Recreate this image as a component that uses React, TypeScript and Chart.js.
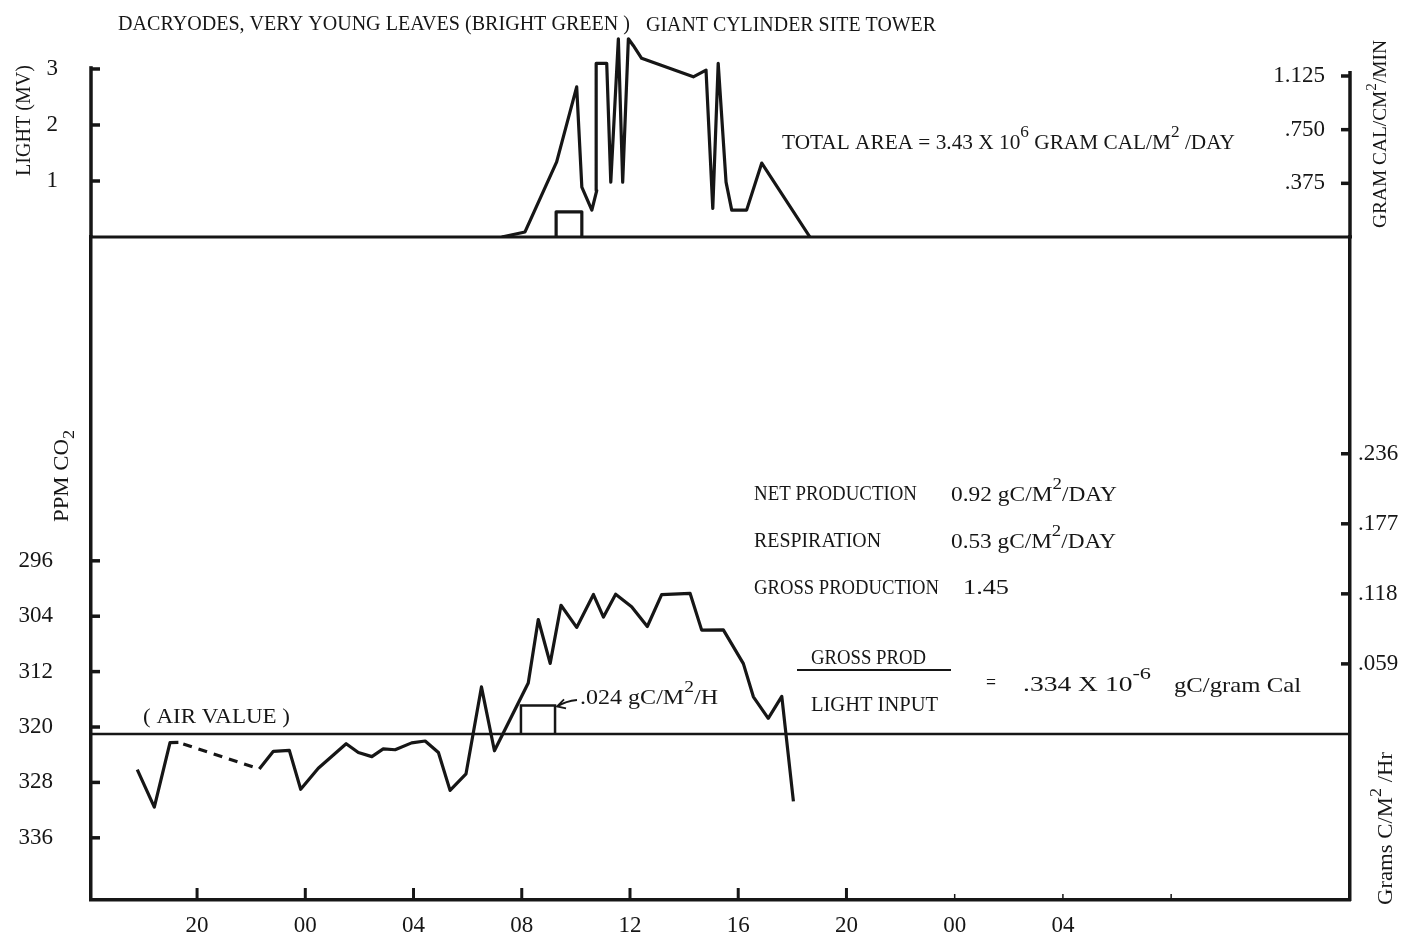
import { useEffect, useRef } from 'react';
import { Chart, registerables } from 'chart.js';

Chart.register(...registerables);

// Clock hours on one continuous axis: -4 is 20:00 of the evening before, 24 is the next midnight.
const HOUR_TICKS = [-4, 0, 4, 8, 12, 16, 20, 24, 28, 32];
const HOUR_LABELS = ['20', '00', '04', '08', '12', '16', '20', '00', '04', ''];

const LIGHT_TICKS = [1, 2, 3];
const CAL_TICKS = [0.375, 0.75, 1.125];
const CAL_LABELS = ['.375', '.750', '1.125'];
const CO2_TICKS = [296, 304, 312, 320, 328, 336];
const RATE_TICKS = [0.059, 0.118, 0.177, 0.236];
const RATE_LABELS = ['.059', '.118', '.177', '.236'];

// Light sensor trace (millivolts)
const LIGHT_HOURS = [7.26, 8.12, 9.29, 10.03, 10.22, 10.59, 10.77, 10.75, 11.14, 11.29, 11.57, 11.73, 11.94, 12.12, 12.43, 14.34, 14.81, 15.06, 15.26, 15.55, 15.76, 16.31, 16.87, 18.65];
const LIGHT_MV = [0, 0.09, 1.34, 2.68, 0.89, 0.48, 0.83, 3.1, 3.1, 0.98, 3.54, 0.98, 3.54, 3.42, 3.19, 2.86, 2.98, 0.51, 3.1, 0.98, 0.48, 0.48, 1.32, 0];

// Reference block under the light curve
const LIGHT_BOX_HOURS = [9.27, 9.27, 10.22, 10.22];
const LIGHT_BOX_MV = [0, 0.45, 0.45, 0];

// CO2 in the cylinder (ppm); null marks the stretch that is only sketched in dashes
const CO2_HOURS = [-6.21, -5.58, -5.0, -4.69, -3.2, -1.7, -1.18, -0.59, -0.17, 0.48, 1.51, 1.96, 2.46, 2.88, 3.32, 3.93, 4.43, 4.92, 5.35, 5.94, 6.51, 6.99, 8.24, 8.61, 9.05, 9.45, 10.03, 10.65, 11.02, 11.47, 12.06, 12.64, 13.17, 14.22, 14.65, 15.45, 16.19, 16.56, 17.11, 17.61, 18.04];
const CO2_PPM = [326.15, 331.56, 322.25, 322.23, null, 326.07, 323.51, 323.38, 328.99, 325.96, 322.41, 323.68, 324.28, 323.16, 323.28, 322.29, 322.02, 323.68, 329.15, 326.76, 314.21, 323.43, 313.65, 304.48, 310.81, 302.42, 305.62, 300.87, 304.13, 300.83, 302.63, 305.49, 300.89, 300.69, 306.01, 305.97, 310.85, 315.64, 318.74, 315.58, 330.73];
const CO2_GAP_HOURS = [-4.51, -1.79];
const CO2_GAP_PPM = [322.46, 325.93];

const AIR_PPM = 321;

// Net uptake block, one hour at .024 gC/m2/h
const NET_BOX_HOURS = [7.97, 7.97, 9.23, 9.23];
const NET_BOX_RATE = [0, 0.024, 0.024, 0];

// Scale ranges
const X_MIN = -7.92;
const X_MAX = 38.61;
const LIGHT_MAX = 3.571;
const CAL_MAX = 1.3975;
const CO2_MIN = 249.24;
const CO2_MAX = 344.98;
const RATE_MIN = -0.1399;
const RATE_MAX = 0.4186;

const INK = '#161616';
const TEXT_FONT = '"Liberation Serif", "DejaVu Serif", serif';

type Seg = { t: string; v?: number };
type Note = { segs: Seg[]; x: number; y: number; w: number; size: number; rot?: boolean };

const NOTES: Note[] = [
  { segs: [{ t: 'DACRYODES, VERY YOUNG LEAVES (BRIGHT GREEN )' }], x: 118, y: 30, w: 512, size: 21 },
  { segs: [{ t: 'GIANT CYLINDER SITE TOWER' }], x: 646, y: 31, w: 290, size: 21 },
  { segs: [{ t: 'TOTAL AREA = 3.43 X 10' }, { t: '6', v: 1 }, { t: ' GRAM CAL/M' }, { t: '2', v: 1 }, { t: ' /DAY' }], x: 782, y: 149, w: 453, size: 21 },
  { segs: [{ t: 'NET PRODUCTION' }], x: 754, y: 500, w: 163, size: 21 },
  { segs: [{ t: '0.92 gC/M' }, { t: '2', v: 1 }, { t: '/DAY' }], x: 951, y: 501, w: 166, size: 21 },
  { segs: [{ t: 'RESPIRATION' }], x: 754, y: 547, w: 127, size: 21 },
  { segs: [{ t: '0.53 gC/M' }, { t: '2', v: 1 }, { t: '/DAY' }], x: 951, y: 548, w: 165, size: 21 },
  { segs: [{ t: 'GROSS PRODUCTION' }], x: 754, y: 594, w: 185, size: 21 },
  { segs: [{ t: '1.45' }], x: 963, y: 594, w: 46, size: 21 },
  { segs: [{ t: 'GROSS PROD' }], x: 811, y: 664, w: 115, size: 21 },
  { segs: [{ t: 'LIGHT INPUT' }], x: 811, y: 711, w: 127, size: 21 },
  { segs: [{ t: '=' }], x: 986, y: 689, w: 10, size: 21 },
  { segs: [{ t: '.334 X 10' }, { t: '-6', v: 1 }], x: 1023, y: 691, w: 128, size: 21 },
  { segs: [{ t: 'gC/gram Cal' }], x: 1174, y: 692, w: 127, size: 21 },
  { segs: [{ t: '( AIR VALUE )' }], x: 143, y: 723, w: 147, size: 21 },
  { segs: [{ t: '.024 gC/M' }, { t: '2', v: 1 }, { t: '/H' }], x: 580, y: 704, w: 138, size: 21 },
  { segs: [{ t: 'LIGHT (MV)' }], x: 30, y: 176, w: 111, size: 20, rot: true },
  { segs: [{ t: 'PPM CO' }, { t: '2', v: -1 }], x: 68, y: 522, w: 92, size: 20, rot: true },
  { segs: [{ t: 'GRAM CAL/CM' }, { t: '2', v: 1 }, { t: '/MIN' }], x: 1386, y: 228, w: 188, size: 19, rot: true },
  { segs: [{ t: 'Grams C/M' }, { t: '2', v: 1 }, { t: ' /Hr' }], x: 1392, y: 905, w: 153, size: 20, rot: true },
];

function drawNote(ctx: CanvasRenderingContext2D, n: Note) {
  ctx.save();
  ctx.translate(n.x, n.y);
  if (n.rot) ctx.rotate(-Math.PI / 2);
  ctx.fillStyle = INK;
  ctx.textAlign = 'left';
  ctx.textBaseline = 'alphabetic';
  const fonts = n.segs.map((s) => `${s.v ? Math.round(n.size * 0.8) : n.size}px ${TEXT_FONT}`);
  const widths = n.segs.map((s, i) => {
    ctx.font = fonts[i];
    return ctx.measureText(s.t).width;
  });
  const total = widths.reduce((a, b) => a + b, 0);
  ctx.scale(n.w / total, 1);
  let cx = 0;
  n.segs.forEach((s, i) => {
    ctx.font = fonts[i];
    const dy = s.v === 1 ? -n.size * 0.55 : s.v === -1 ? n.size * 0.3 : 0;
    ctx.fillText(s.t, cx, dy);
    cx += widths[i];
  });
  ctx.restore();
}

function seg(ctx: CanvasRenderingContext2D, x1: number, y1: number, x2: number, y2: number, w: number) {
  ctx.lineWidth = w;
  ctx.beginPath();
  ctx.moveTo(x1, y1);
  ctx.lineTo(x2, y2);
  ctx.stroke();
}

const NET_RATE_TOP = NET_BOX_RATE[1];

const framePlugin = {
  id: 'frame',
  beforeDatasetsDraw(chart: any) {
    const ctx: CanvasRenderingContext2D = chart.ctx;
    const { left, right, bottom } = chart.chartArea;
    const { x, yL, yC, yR1, yR2 } = chart.scales;
    ctx.save();
    ctx.strokeStyle = INK;
    ctx.lineCap = 'butt';
    // upper parts of the two vertical axes
    seg(ctx, left, yL.getPixelForValue(3.05), left, yL.getPixelForValue(0), 3.5);
    seg(ctx, right, yR1.getPixelForValue(1.16), right, yR1.getPixelForValue(0), 3.5);
    // light base line and air value line
    const y0 = yL.getPixelForValue(0);
    seg(ctx, left - 2, y0, right + 2, y0, 3);
    const yAir = yC.getPixelForValue(AIR_PPM);
    seg(ctx, left, yAir, right, yAir, 2.5);
    // inward tick marks
    LIGHT_TICKS.forEach((v) => seg(ctx, left, yL.getPixelForValue(v), left + 9, yL.getPixelForValue(v), 3.5));
    CO2_TICKS.forEach((v) => seg(ctx, left, yC.getPixelForValue(v), left + 9, yC.getPixelForValue(v), 3.5));
    CAL_TICKS.forEach((v) => seg(ctx, right - 9, yR1.getPixelForValue(v), right, yR1.getPixelForValue(v), 3.5));
    RATE_TICKS.forEach((v) => seg(ctx, right - 9, yR2.getPixelForValue(v), right, yR2.getPixelForValue(v), 3.5));
    HOUR_TICKS.forEach((v, i) => {
      const px = x.getPixelForValue(v);
      seg(ctx, px, bottom - (i < 7 ? 12 : 6), px, bottom, i < 7 ? 3 : 1.5);
    });
    ctx.restore();
  },
  afterDraw(chart: any) {
    const ctx: CanvasRenderingContext2D = chart.ctx;
    ctx.save();
    NOTES.forEach((n) => drawNote(ctx, n));
    ctx.strokeStyle = INK;
    // fraction bar
    seg(ctx, 797, 670, 951, 670, 2);
    // pointer from the .024 label to the net block
    const { x, yR2 } = chart.scales;
    const tipX = x.getPixelForValue(NET_BOX_HOURS[3]) + 2;
    const tipY = yR2.getPixelForValue(NET_RATE_TOP) + 1;
    ctx.lineWidth = 1.8;
    ctx.beginPath();
    ctx.moveTo(577, 700);
    ctx.quadraticCurveTo(566, 701, tipX, tipY);
    ctx.stroke();
    ctx.beginPath();
    ctx.moveTo(tipX + 7, tipY - 7);
    ctx.lineTo(tipX, tipY);
    ctx.lineTo(tipX + 9, tipY + 2);
    ctx.stroke();
    ctx.restore();
  },
};

const xy = (xs: number[], ys: (number | null)[]) => xs.map((x, i) => ({ x, y: ys[i] }));

const lineStyle = {
  borderColor: INK,
  borderWidth: 3.2,
  pointRadius: 0,
  fill: false,
  tension: 0,
  borderJoinStyle: 'round' as const,
};

const tickFont = { family: TEXT_FONT, size: 23 };
const hidden = { display: false, drawTicks: false };

// fixed box sizes and no label overhang, so the plot area is exactly where the layout padding puts it
const fitWidth = (w: number) => (s: any) => {
  s.width = w;
  s.paddingTop = 0;
  s.paddingBottom = 0;
};

export default function App() {
  const ref = useRef<HTMLCanvasElement>(null);

  useEffect(() => {
    const canvas = ref.current;
    if (!canvas) return;
    const chart = new Chart(canvas, {
      type: 'line',
      data: {
        datasets: [
          { ...lineStyle, label: 'Light', yAxisID: 'yL', data: xy(LIGHT_HOURS, LIGHT_MV) },
          { ...lineStyle, label: 'Light block', yAxisID: 'yL', data: xy(LIGHT_BOX_HOURS, LIGHT_BOX_MV) },
          { ...lineStyle, label: 'CO2', yAxisID: 'yC', spanGaps: false, data: xy(CO2_HOURS, CO2_PPM) },
          { ...lineStyle, label: 'CO2 (sketched)', yAxisID: 'yC', borderDash: [9, 7], data: xy(CO2_GAP_HOURS, CO2_GAP_PPM) },
          { ...lineStyle, label: 'Net block', yAxisID: 'yR2', borderWidth: 2.5, borderJoinStyle: 'miter' as const, data: xy(NET_BOX_HOURS, NET_BOX_RATE) },
        ] as any,
      },
      options: {
        responsive: false,
        animation: false,
        events: [],
        layout: { padding: { top: 37, left: 0, right: 0, bottom: 0 } },
        plugins: {
          legend: { display: false },
          tooltip: { enabled: false },
        },
        scales: {
          x: {
            type: 'linear',
            position: 'bottom',
            min: X_MIN,
            max: X_MAX,
            afterFit: (s: any) => {
              s.height = 47;
              s.paddingLeft = 0;
              s.paddingRight = 0;
            },
            afterBuildTicks: (s: any) => { s.ticks = HOUR_TICKS.map((value) => ({ value })); },
            grid: hidden,
            border: { display: true, color: INK, width: 3.5 },
            ticks: {
              autoSkip: false,
              maxRotation: 0,
              minRotation: 0,
              padding: 12,
              color: INK,
              font: tickFont,
              callback: (_v: any, i: number) => HOUR_LABELS[i],
            },
          },
          yL: {
            type: 'linear',
            position: 'left',
            stack: 'panels',
            stackWeight: 200,
            weight: 2,
            min: 0,
            max: LIGHT_MAX,
            afterFit: fitWidth(91),
            afterBuildTicks: (s: any) => { s.ticks = LIGHT_TICKS.map((value) => ({ value })); },
            grid: hidden,
            border: { display: false },
            ticks: { padding: 33, color: INK, font: tickFont, callback: (v: any) => String(v) },
          },
          yC: {
            type: 'linear',
            position: 'left',
            stack: 'panels',
            stackWeight: 663,
            weight: 1,
            reverse: true,
            min: CO2_MIN,
            max: CO2_MAX,
            afterFit: fitWidth(91),
            afterBuildTicks: (s: any) => { s.ticks = CO2_TICKS.map((value) => ({ value })); },
            grid: hidden,
            border: { display: true, color: INK, width: 3.5 },
            ticks: { padding: 38, color: INK, font: tickFont, callback: (v: any) => String(v) },
          },
          yR1: {
            type: 'linear',
            position: 'right',
            stack: 'panels',
            stackWeight: 200,
            weight: 1,
            min: 0,
            max: CAL_MAX,
            afterFit: fitWidth(58),
            afterBuildTicks: (s: any) => { s.ticks = CAL_TICKS.map((value) => ({ value })); },
            grid: hidden,
            border: { display: false },
            ticks: { mirror: true, padding: -25, color: INK, font: tickFont, callback: (_v: any, i: number) => CAL_LABELS[i] },
          },
          yR2: {
            type: 'linear',
            position: 'right',
            stack: 'panels',
            stackWeight: 663,
            weight: 2,
            min: RATE_MIN,
            max: RATE_MAX,
            afterFit: fitWidth(58),
            afterBuildTicks: (s: any) => { s.ticks = RATE_TICKS.map((value) => ({ value })); },
            grid: hidden,
            border: { display: true, color: INK, width: 3.5 },
            ticks: { padding: 8, color: INK, font: tickFont, callback: (_v: any, i: number) => RATE_LABELS[i] },
          },
        },
      } as any,
      plugins: [framePlugin],
    });
    return () => chart.destroy();
  }, []);

  return (
    <div style={{ position: 'absolute', left: 0, top: 0, width: 1408, height: 947, background: '#fff' }}>
      <canvas ref={ref} width={1408} height={947} style={{ display: 'block', width: 1408, height: 947 }} />
    </div>
  );
}
